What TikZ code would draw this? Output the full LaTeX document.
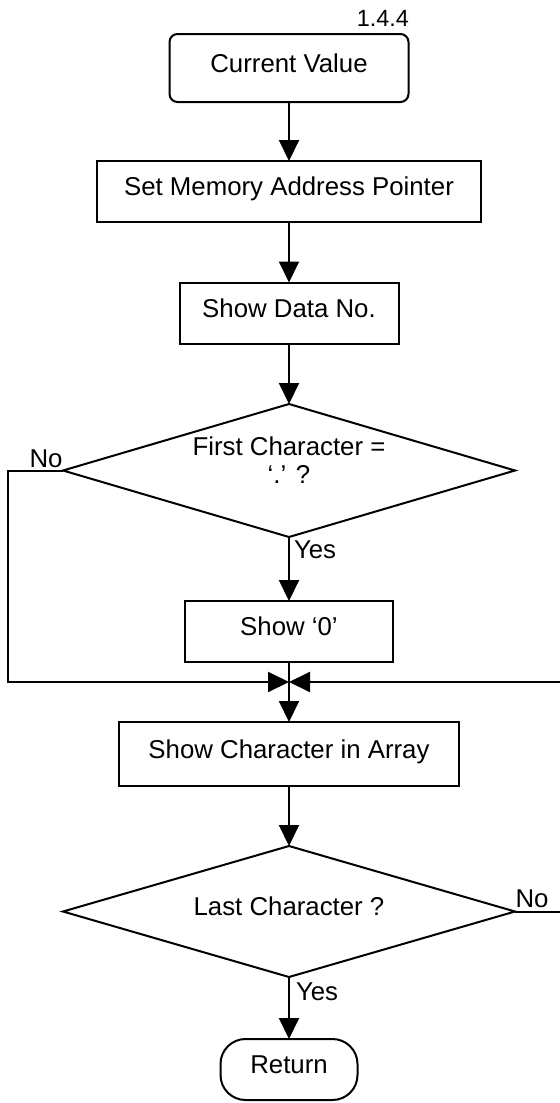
\documentclass[tikz,border=0pt]{standalone}
\usepackage{fontspec}
\setmainfont{Liberation Sans}
\usetikzlibrary{shapes.geometric,arrows.meta}
\begin{document}
\begin{tikzpicture}[x=0.5pt,y=-0.5pt,
  every node/.style={font=\fontsize{12.9pt}{14pt}\selectfont, inner sep=0pt, outer sep=0pt},
  proc/.style={draw, line width=1pt, minimum height=30.5pt, text height=9.3pt, text depth=5pt},
  term/.style={proc, rounded corners=4pt},
  dec/.style={draw, line width=1pt, shape=diamond, aspect=3.4, minimum width=226pt},
  flow/.style={line width=1pt, -{Triangle[length=10.5pt,width=10pt]}},
  lbl/.style={anchor=base west},
  nolbl/.style={anchor=base}
]
\useasboundingbox (0,0) rectangle (560,1103);
\node[anchor=base east, font=\fontsize{11.7pt}{14pt}\selectfont] (tag) at (409,26) {1.4.4};
\node[term, minimum width=119.5pt, minimum height=34pt] (cv) at (289,68) {Current Value};
\node[proc, minimum width=192pt] (sm) at (289,191.5) {Set Memory Address Pointer};
\node[proc, minimum width=109.5pt] (sd) at (289,313) {Show Data No.};
\node[dec, minimum height=66.5pt, text depth=10.4pt, align=center] (d1) at (289,470.5) {First Character =\\`.' ?};
\node[proc, minimum width=104pt] (s0) at (289,631.5) {Show `0'};
\node[proc, minimum width=170pt, minimum height=32pt] (sc) at (289,754) {Show Character in Array};
\node[dec, minimum height=65.5pt, text height=9.3pt, text depth=5pt] (d2) at (289,911.5) {Last Character ?};
\node[proc, rounded corners=12.5pt, minimum width=68.5pt] (ret) at (289,1069.5) {Return};

\node[lbl] (y1) at (294,558) {Yes};
\node[lbl] (y2) at (296,1000) {Yes};
\node[nolbl] (n1) at (46,467) {No};
\node[nolbl] (n2) at (532,907) {No};

\coordinate (m) at (289,682);
\coordinate (l) at (8,682);
\coordinate (r) at (564,682);

\draw[flow] (cv) -- (sm);
\draw[flow] (sm) -- (sd);
\draw[flow] (sd) -- (d1);
\draw[flow] (d1.south) -- (s0.north);
\draw[flow] (d1.west) -- (d1.west -| l) -- (l) -- (m);
\draw[flow] (s0.south) -- (sc.north);
\draw[flow] (sc) -- (d2);
\draw[flow] (d2.south) -- (ret.north);
\draw[flow] (d2.east) -- (d2.east -| r) -- (r) -- (m);
\end{tikzpicture}
\end{document}
